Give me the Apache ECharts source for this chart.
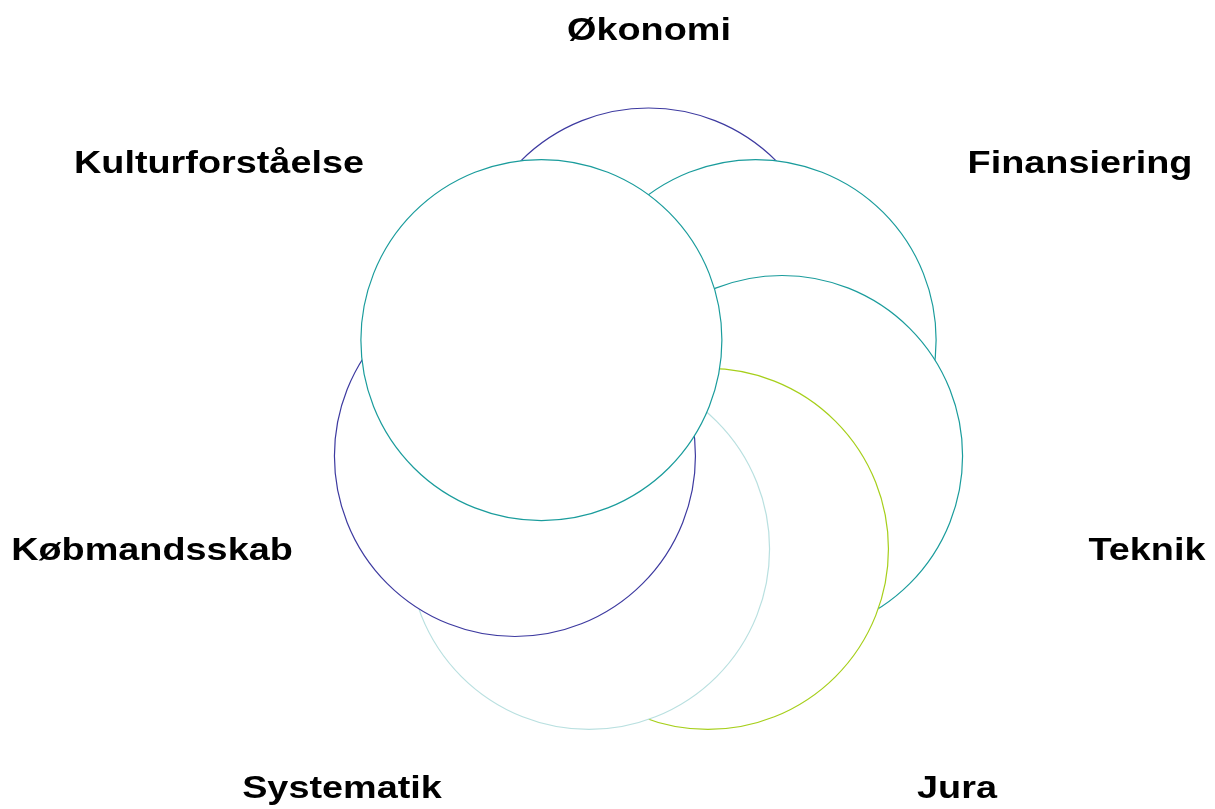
<!DOCTYPE html>
<html>
<head>
<meta charset="utf-8">
<script src="https://cdn.jsdelivr.net/npm/echarts@6/dist/echarts.min.js"></script>
<style>
  html, body { margin: 0; padding: 0; background: #fff; }
  #chart { width: 1215px; height: 809px; }
</style>
</head>
<body>
<div id="chart"></div>
<script>
// emner i ringen, med uret fra toppen
let categories = ['Økonomi', 'Finansiering', 'Teknik', 'Jura', 'Systematik', 'Købmandsskab', 'Kulturforståelse'];
// alle cirkler ligger på samme ring
let ringValues = [1, 1, 1, 1, 1, 1, 1];
let borderColors = ['#3d3aa0', '#1a9c9c', '#1a9c9c', '#a6cf1a', '#b9e0e0', '#3d3aa0', '#1a9c9c'];

// placering af overskrifterne rundt om ringen
let labelAnchors = [
	[649, 31], [1080, 164], [1147, 551], [957, 789],
	[342, 789], [152, 551], [219, 164]
];

let chart = echarts.init(document.getElementById('chart'), null, { renderer: 'canvas' });

let option = {
	backgroundColor: '#fff',
	animation: false,
	polar: {
		center: [648.5, 425.5],
		radius: 137
	},
	angleAxis: {
		type: 'category',
		data: categories,
		startAngle: 90,
		clockwise: true,
		boundaryGap: false,
		axisLine: { show: false },
		axisTick: { show: false },
		axisLabel: { show: false },
		splitLine: { show: false }
	},
	radiusAxis: {
		min: 0,
		max: 1,
		axisLine: { show: false },
		axisTick: { show: false },
		axisLabel: { show: false },
		splitLine: { show: false }
	},
	series: [{
		type: 'scatter',
		coordinateSystem: 'polar',
		symbol: 'circle',
		symbolSize: 361,
		silent: true,
		data: categories.map((name, i) => ({
			name: name,
			value: [ringValues[i], name],
			itemStyle: {
				color: '#fff',
				borderColor: borderColors[i],
				borderWidth: 1.2,
				opacity: 1
			}
		}))
	}],
	// teksten er bred i originalen, derfor scaleX
	graphic: categories.map((name, i) => ({
		type: 'text',
		x: labelAnchors[i][0],
		y: labelAnchors[i][1],
		scaleX: 1.22,
		style: {
			text: name,
			fill: '#000',
			font: 'bold 31px "Liberation Sans", Arial, sans-serif',
			textAlign: 'center',
			textVerticalAlign: 'middle'
		}
	}))
};

chart.setOption(option);
</script>
</body>
</html>
